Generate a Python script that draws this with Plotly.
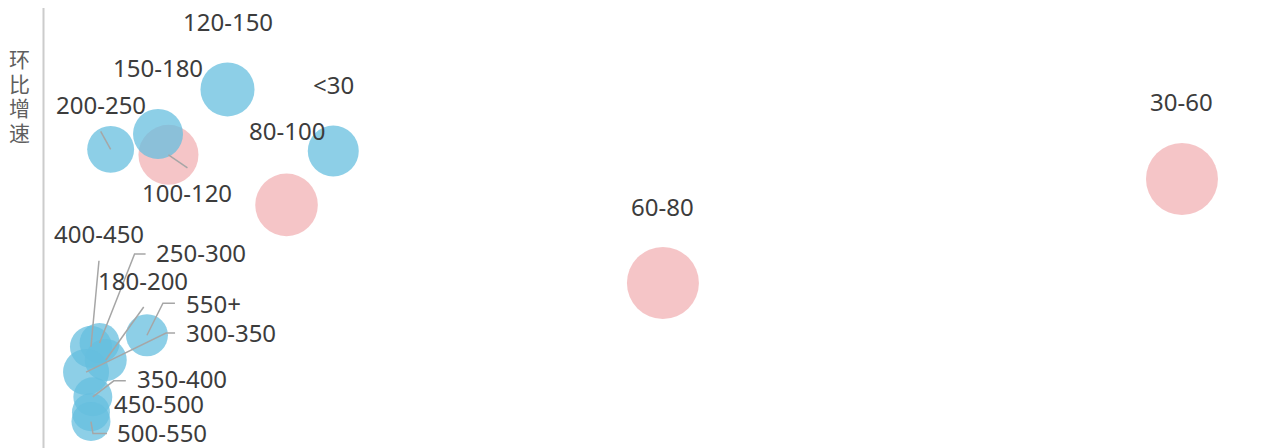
import plotly.graph_objects as go

# ---- data ----
pink_names = ["30-60", "60-80", "80-100", "100-120"]
pink_x = [92.6, 50.4, 19.8, 10.2]
pink_y = [8.9, -10.0, 4.2, 13.3]
pink_vol = [1296, 1296, 980, 900]

blue_names = ["<30", "120-150", "150-180", "200-250", "550+", "400-450", "250-300",
              "180-200", "300-350", "350-400", "450-500", "500-550"]
blue_x = [23.6, 15.0, 9.35, 5.5, 8.45, 3.9, 4.6, 5.1, 3.5, 4.05, 3.9, 3.9]
blue_y = [14.0, 25.2, 17.1, 14.3, -19.5, -21.6, -20.9, -24.0, -26.2, -30.7, -33.5, -35.2]
blue_vol = [650, 730, 625, 550, 441, 441, 400, 441, 529, 380, 361, 380]

y_title = "环比增速"

# ---- layout constants (page body has an 8px margin) ----
BODY = 8
W, H = 1273 - BODY, 448 - BODY
ML, MR, MT, MB = 43 - BODY, 0, 0, 0
XR = [0, 100]
YR = [-40, 40]
PW = W - ML - MR
PH = H - MT - MB
LABEL_DY = -2  # global vertical nudge for labels (px, y down)

def dxp(px):
    return px * (XR[1] - XR[0]) / PW

def dyp(py):
    return -py * (YR[1] - YR[0]) / PH

# label styling: (mode, label offset, leader polyline offsets) in px, y down
label_style = {
    "30-60": ("c", (0, -76), None),
    "60-80": ("c", (0, -75), None),
    "80-100": ("c", (0, -72), None),
    "<30": ("c", (0, -65), None),
    "120-150": ("c", (0, -66), None),
    "150-180": ("c", (0, -64), None),
    "200-250": ("c", (-10, -43), [(0, 0), (-10, -18)]),
    "100-120": ("c", (19, 40), [(0, 0), (19, 13)]),
    "550+": ("l", (37, -30), [(0, 0), (16, -32), (28, -32)]),
    "300-350": ("l", (98, -38), [(0, 0), (80, -39), (89, -39)]),
    "250-300": ("l", (54, -88), [(0, 0), (35, -89), (46, -89)]),
    "400-450": ("c", (8, -111), [(0, 0), (8, -86)]),
    "180-200": ("c", (37, -78), [(0, 0), (38, -53)]),
    "350-400": ("l", (42, -16), [(0, 0), (21, -16), (33, -16)]),
    "450-500": ("l", (21, -7), None),
    "500-550": ("l", (24, 13), [(0, 0), (2, 12), (16, 12)]),
}

LABEL_FONT = dict(family="Noto Sans", size=24, color="#3c3c3c")

fig = go.Figure()
fig.add_trace(go.Scatter(
    x=pink_x, y=pink_y, mode="markers", hoverinfo="text", text=pink_names,
    marker=dict(size=pink_vol, sizemode="area", sizeref=0.5, opacity=1,
                color="rgba(241,177,180,0.74)", line=dict(width=0)),
    showlegend=False))
fig.add_trace(go.Scatter(
    x=blue_x, y=blue_y, mode="markers", hoverinfo="text", text=blue_names,
    marker=dict(size=blue_vol, sizemode="area", sizeref=0.5, opacity=1,
                color="rgba(101,190,222,0.74)", line=dict(width=0)),
    showlegend=False))

lx, ly = [], []
all_pts = list(zip(pink_names, pink_x, pink_y)) + list(zip(blue_names, blue_x, blue_y))
annotations = []
for name, x, y in all_pts:
    mode, (ox, oy), poly = label_style[name]
    if poly:
        for (px, py) in poly:
            lx.append(x + dxp(px))
            ly.append(y + dyp(py))
        lx.append(None)
        ly.append(None)
    annotations.append(dict(
        x=x, y=y, xref="x", yref="y", text=name, showarrow=False,
        xshift=ox, yshift=-(oy + LABEL_DY), xanchor="center" if mode == "c" else "left",
        yanchor="middle", font=LABEL_FONT))

fig.add_trace(go.Scatter(x=lx, y=ly, mode="lines", hoverinfo="skip",
                         line=dict(color="#a6a6a6", width=1.5), showlegend=False))

# vertical (stacked) y-axis title
for i, ch in enumerate(y_title):
    py = 58 + i * 24.5  # page px
    annotations.append(dict(
        x=(19 - 43) / PW, y=1 - (py - 8) / PH, xref="paper", yref="paper",
        text=ch, showarrow=False, xanchor="center", yanchor="middle",
        font=dict(family="Noto Sans CJK SC", size=21, color="#5f5f5f")))

fig.update_layout(
    width=W, height=H,
    margin=dict(l=ML, r=MR, t=MT, b=MB, pad=0),
    paper_bgcolor="white", plot_bgcolor="white",
    xaxis=dict(range=XR, visible=False, showgrid=False, zeroline=False),
    yaxis=dict(range=YR, showgrid=False, zeroline=False, showticklabels=False,
               ticks="", showline=False),
    shapes=[dict(type="line", xref="paper", yref="paper", x0=0.5 / PW, x1=0.5 / PW,
                 y0=0, y1=1, line=dict(color="#cccccc", width=2), layer="below")],
    annotations=annotations,
)

fig.write_html("out.html")
